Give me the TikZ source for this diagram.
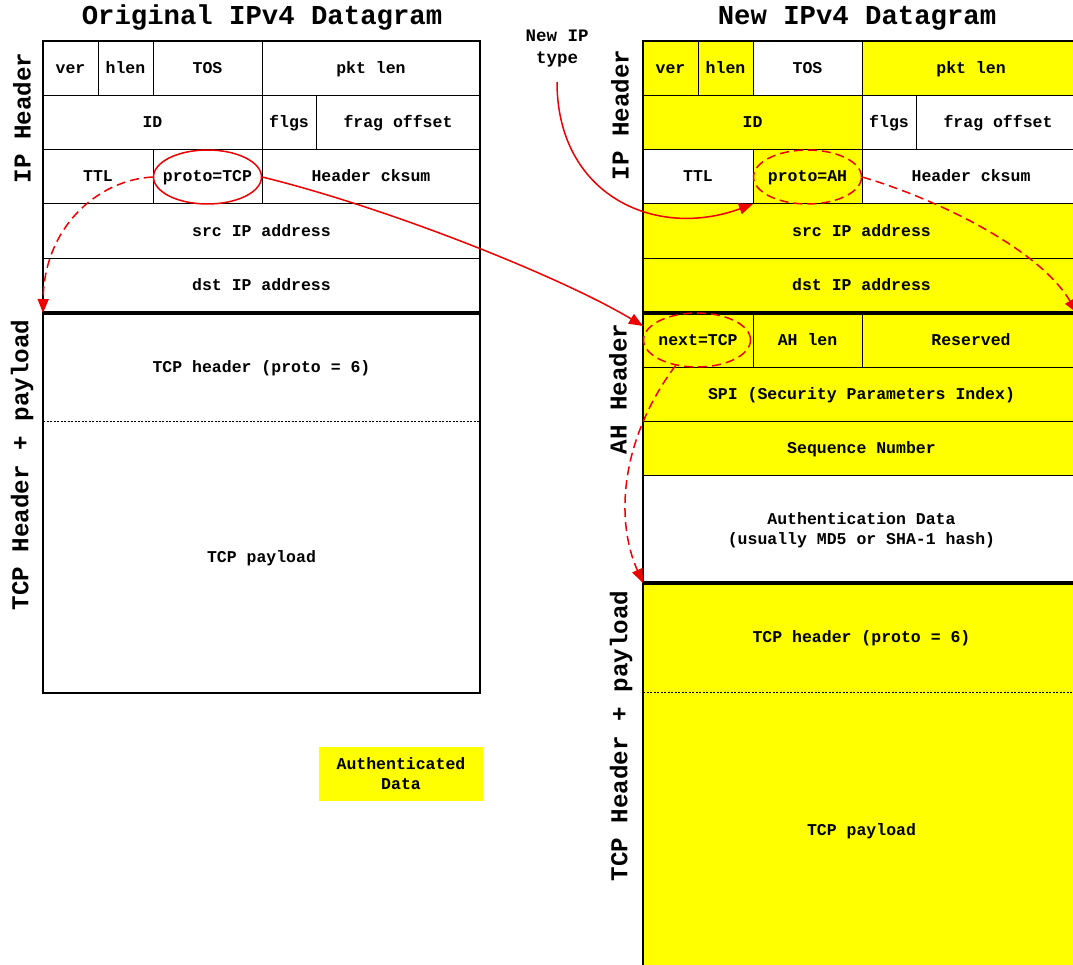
\documentclass[tikz,border=0pt]{standalone}
\usepackage{fontspec}
\setmainfont{Liberation Mono}
\usetikzlibrary{arrows.meta,shapes.geometric}
\definecolor{hl}{RGB}{255,255,0}
\definecolor{ar}{RGB}{238,0,0}
\newcommand\fld[7]{\node[cell,#6,minimum width={(#4-#2)*1pt},minimum height={(#5-#3)*1pt}] (#1) at ({(#2+#4)/2},{(#3+#5)/2}) {#7};}
\begin{document}
\begin{tikzpicture}[x=1pt,y=-1pt,
  cell/.style={draw=black,line width=1pt,inner sep=0pt,outer sep=0pt,align=center,
    font=\fontsize{16.5}{20}\selectfont\bfseries},
  one/.style={text height=10pt,text depth=0pt},
  plain/.style={fill=white,one},
  yel/.style={fill=hl,one},
  frame/.style={line width=2.6pt},
  bar/.style={line width=3.2pt},
  sep/.style={line width=0.8pt,dash pattern=on 2pt off 1.5pt},
  title/.style={anchor=base,font=\fontsize{27.3}{30}\selectfont\bfseries},
  side/.style={rotate=90,font=\fontsize{24.2}{28}\selectfont\bfseries},
  ring/.style={ellipse,draw=ar,line width=1.5pt,inner sep=0pt,minimum width=108pt,minimum height=54pt},
  ringdash/.style={ring,dash pattern=on 9pt off 5pt},
  link/.style={draw=ar,line width=1.5pt,-{Triangle[length=14pt,width=11pt]}},
  linkdash/.style={link,dash pattern=on 9pt off 5pt}]
\useasboundingbox (0,0) rectangle (1073,965);
\clip (0,0) rectangle (1073,965);
% titles
\node[title] (t1) at (262,25) {Original IPv4 Datagram};
\node[title] (t2) at (857,25) {New IPv4 Datagram};
% left datagram
\fld{ver1}{43}{41}{98}{96}{plain}{ver}
\fld{hlen1}{98}{41}{153}{96}{plain}{hlen}
\fld{tos1}{153}{41}{262}{96}{plain}{TOS}
\fld{len1}{262}{41}{480}{96}{plain}{pkt len}
\fld{id1}{43}{96}{262}{150}{plain}{ID}
\fld{flg1}{262}{96}{316}{150}{plain}{flgs}
\fld{frag1}{316}{96}{480}{150}{plain}{frag offset}
\fld{ttl1}{43}{150}{153}{204}{plain}{TTL}
\fld{proto1}{153}{150}{262}{204}{plain}{proto=TCP}
\fld{ck1}{262}{150}{480}{204}{plain}{Header cksum}
\fld{src1}{43}{204}{480}{259}{plain}{src IP address}
\fld{dst1}{43}{259}{480}{313}{plain}{dst IP address}
\fld{tcph1}{43}{313}{480}{421}{plain,draw=none}{TCP header (proto = 6)}
\fld{pay1}{43}{421}{480}{693}{plain,draw=none}{TCP payload}
\draw[sep] (tcph1.south west) -- (tcph1.south east);
\draw[frame] (ver1.north west) rectangle (pay1.south east);
\draw[bar] (dst1.south west) -- (dst1.south east);
% right datagram
\fld{ver2}{643}{41}{698}{96}{yel}{ver}
\fld{hlen2}{698}{41}{753}{96}{yel}{hlen}
\fld{tos2}{753}{41}{862}{96}{plain}{TOS}
\fld{len2}{862}{41}{1080}{96}{yel}{pkt len}
\fld{id2}{643}{96}{862}{150}{yel}{ID}
\fld{flg2}{862}{96}{916}{150}{plain}{flgs}
\fld{frag2}{916}{96}{1080}{150}{plain}{frag offset}
\fld{ttl2}{643}{150}{753}{204}{plain}{TTL}
\fld{proto2}{753}{150}{862}{204}{yel}{proto=AH}
\fld{ck2}{862}{150}{1080}{204}{plain}{Header cksum}
\fld{src2}{643}{204}{1080}{259}{yel}{src IP address}
\fld{dst2}{643}{259}{1080}{313}{yel}{dst IP address}
\fld{nxt}{643}{313}{753}{367}{yel}{next=TCP}
\fld{ahlen}{753}{313}{862}{367}{yel}{AH len}
\fld{rsv}{862}{313}{1080}{367}{yel}{Reserved}
\fld{spi}{643}{367}{1080}{421}{yel}{SPI (Security Parameters Index)}
\fld{seq}{643}{421}{1080}{475}{yel}{Sequence Number}
\fld{auth}{643}{475}{1080}{583}{fill=white,text height=31pt,text depth=0pt}{Authentication Data\\(usually MD5 or SHA-1 hash)}
\fld{tcph2}{643}{583}{1080}{692}{yel,draw=none}{TCP header (proto = 6)}
\fld{pay2}{643}{692}{1080}{968}{yel,draw=none}{TCP payload}
\draw[sep] (tcph2.south west) -- (tcph2.south east);
\draw[frame] (ver2.north west) rectangle (pay2.south east);
\draw[bar] (dst2.south west) -- (dst2.south east);
\draw[bar] (auth.south west) -- (auth.south east);
% side labels
\node[side] (ip1) at (22,118) {IP Header};
\node[side] (tcp1) at (22,465) {TCP Header + payload};
\node[side] (ip2) at (620,115) {IP Header};
\node[side] (ah2) at (618,389) {AH Header};
\node[side] (tcp2) at (621,736) {TCP Header + payload};
% legend
\node[cell,draw=none,fill=hl,minimum width=164pt,minimum height=54pt] (leg) at (401,774) {Authenticated\\Data};
% note
\node[align=center,inner sep=0pt,font=\fontsize{17.5}{22}\selectfont\bfseries] (newip) at (557,49) {New IP\\type};
\coordinate (nipt) at (557,82);
% rings
\node[ring] (e1) at (proto1) {};
\node[ringdash] (e2) at (proto2) {};
\node[ringdash,minimum width=107pt] (e3) at (697,340) {};
% connectors
\coordinate (a3end) at (643,326);
\coordinate (a6end) at (1077,313);
\draw[linkdash] (e1.west) .. controls (97,180) and (44,228) .. (tcph1.north west);
\draw[link] (e1.east) .. controls (392,209) and (563,278) .. (a3end);
\draw[link] (nipt) .. controls (557,195) and (655,240) .. (proto2.south west);
\draw[linkdash] (e2.east) .. controls (940,200) and (1040,250) .. (a6end);
\draw[linkdash] (e3.230) .. controls (620,440) and (615,520) .. (tcph2.north west);
\end{tikzpicture}
\end{document}
